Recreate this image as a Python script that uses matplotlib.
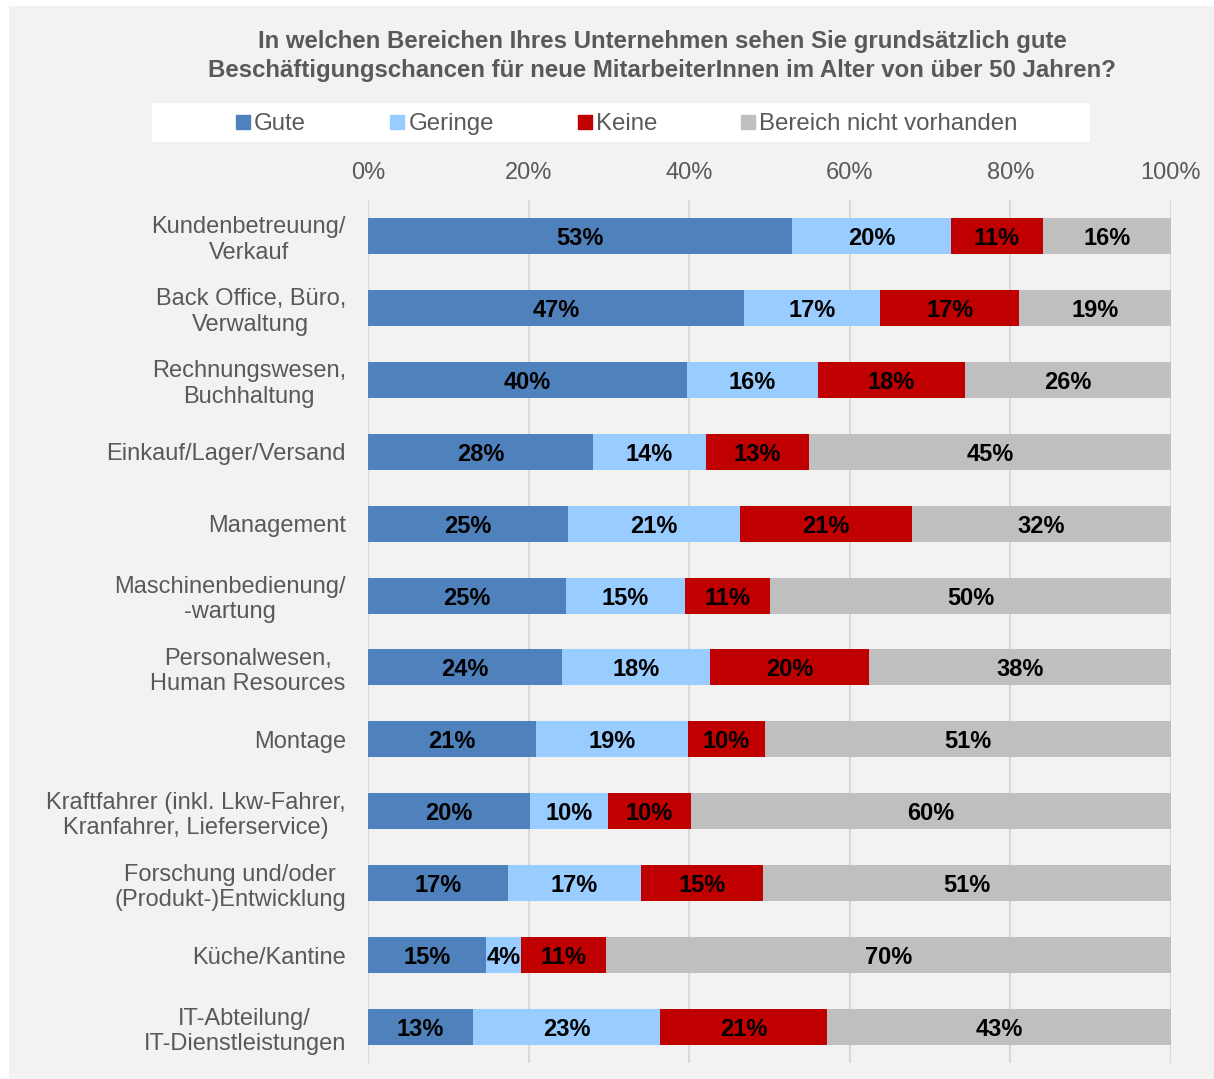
import matplotlib
matplotlib.use("Agg")
import matplotlib.pyplot as plt
from matplotlib.patches import Rectangle
from matplotlib.lines import Line2D
import numpy as np

plt.rcParams['font.family'] = ['Liberation Sans', 'DejaVu Sans']

title = ("In welchen Bereichen Ihres Unternehmen sehen Sie grundsätzlich gute\n"
         "Beschäftigungschancen für neue MitarbeiterInnen im Alter von über 50 Jahren?")

categories = [
    "Kundenbetreuung/\nVerkauf",
    "Back Office, Büro,\nVerwaltung",
    "Rechnungswesen,\nBuchhaltung",
    "Einkauf/Lager/Versand",
    "Management",
    "Maschinenbedienung/\n-wartung",
    "Personalwesen,\nHuman Resources",
    "Montage",
    "Kraftfahrer (inkl. Lkw-Fahrer,\nKranfahrer, Lieferservice)",
    "Forschung und/oder\n(Produkt-)Entwicklung",
    "Küche/Kantine",
    "IT-Abteilung/\nIT-Dienstleistungen",
]

series_names = ["Gute", "Geringe", "Keine", "Bereich nicht vorhanden"]
gute    = [52.8, 46.8, 39.7, 28.0, 24.9, 24.6, 24.2, 20.9, 20.2, 17.4, 14.7, 13.1]
geringe = [19.8, 17.0, 16.3, 14.1, 21.4, 14.9, 18.4, 18.9, 9.7, 16.6, 4.4, 23.3]
keine   = [11.4, 17.3, 18.4, 12.8, 21.4, 10.6, 19.8, 9.6, 10.3, 15.2, 10.6, 20.8]
nicht   = [16.0, 18.9, 25.6, 45.1, 32.3, 49.9, 37.6, 50.6, 59.8, 50.8, 70.3, 42.8]

colors = ["#4f81bd", "#99ccff", "#c00000", "#bfbfbf"]
xticks = [0, 20, 40, 60, 80, 100]
xticklabels = ["0%", "20%", "40%", "60%", "80%", "100%"]

W, H = 1214, 1079
fig = plt.figure(figsize=(W / 100, H / 100), dpi=100)
fig.patch.set_facecolor("white")
fig.patches.append(Rectangle((9 / W, 0), 1 - 9 / W, 1 - 6 / H, transform=fig.transFigure,
                             facecolor="#f2f2f2", edgecolor="none", zorder=-2))
# legend white box
fig.patches.append(Rectangle((152 / W, 1 - 142 / H), (1090 - 152) / W, (142 - 103) / H,
                             transform=fig.transFigure, facecolor="white",
                             edgecolor="none", zorder=-1))

ax = fig.add_axes([368 / W, 1 - 1063 / H, (1171 - 368) / W, (1063 - 200) / H])
ax.set_facecolor("none")

y = np.arange(len(categories))
data = [gute, geringe, keine, nicht]
left = np.zeros(len(categories))
for vals, col in zip(data, colors):
    vals = np.array(vals)
    ax.barh(y, vals, left=left, height=0.5, color=col, zorder=3)
    for yi, (l, v) in enumerate(zip(left, vals)):
        ax.text(l + v / 2, yi, f"{round(v):d}%", ha="center", va="center_baseline",
                fontsize=17, fontweight="bold", color="black", zorder=4)
    left = left + vals

ax.set_xlim(0, 100)
ax.set_ylim(len(categories) - 0.5, -0.5)
ax.set_yticks(y)
ax.set_yticklabels(categories, fontsize=17, color="#595959", linespacing=1.2,
                   multialignment="center")
ax.set_xticks(xticks)
ax.set_xticklabels(xticklabels, fontsize=17, color="#595959")
ax.xaxis.tick_top()
ax.tick_params(axis="both", length=0)
ax.tick_params(axis="x", pad=11.5)
ax.tick_params(axis="y", pad=16)
ax.grid(axis="x", color="#d9d9d9", linewidth=1.5, zorder=1)
for s in ax.spines.values():
    s.set_visible(False)

fig.text(662 / W, 1 - 56 / H, title, ha="center", va="center", fontsize=17.3,
         fontweight="bold", color="#595959", linespacing=1.3)

handles = [Line2D([], [], marker="s", linestyle="none", markersize=9.4,
                  markerfacecolor=c, markeredgecolor=c) for c in colors]
fig.legend(handles, series_names, loc="center", bbox_to_anchor=(627 / W, 1 - 124 / H),
           ncol=4, frameon=False, fontsize=17.3, handlelength=0.55,
           handletextpad=0.2, columnspacing=3.5, labelcolor="#595959")

fig.savefig("out.png", dpi=100, facecolor=fig.get_facecolor())
